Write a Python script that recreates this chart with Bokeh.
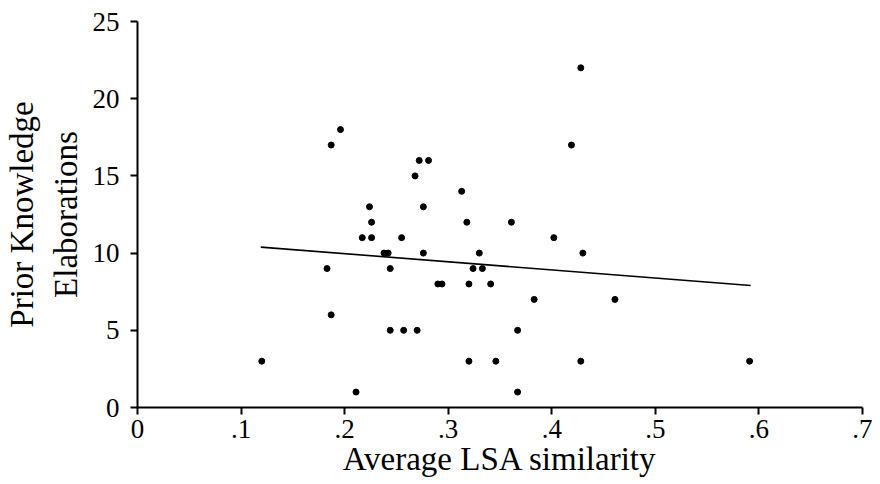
from bokeh.plotting import figure
from bokeh.models import Range1d, FixedTicker
from bokeh.embed import file_html
from bokeh.resources import INLINE

# Average LSA similarity (x) vs Prior Knowledge Elaborations (y)
lsa = [0.120, 0.183, 0.187, 0.187, 0.196, 0.211, 0.217, 0.224, 0.226, 0.226,
       0.238, 0.242, 0.244, 0.244, 0.255, 0.257, 0.268, 0.270, 0.272, 0.276,
       0.276, 0.281, 0.290, 0.294, 0.313, 0.318, 0.320, 0.320, 0.324, 0.330,
       0.333, 0.341, 0.346, 0.361, 0.367, 0.367, 0.383, 0.402, 0.419, 0.428,
       0.428, 0.430, 0.461, 0.591]
elab = [3, 9, 6, 17, 18, 1, 11, 13, 12, 11,
        10, 10, 9, 5, 11, 5, 15, 5, 16, 13,
        10, 16, 8, 8, 14, 12, 8, 3, 9, 10,
        9, 8, 3, 12, 5, 1, 7, 11, 17, 22,
        3, 10, 7, 3]

# regression line end points
fit_x = [0.119, 0.592]
fit_y = [10.39, 7.90]

x_ticks = [0, 0.1, 0.2, 0.3, 0.4, 0.5, 0.6, 0.7]
x_tick_labels = ["0", ".1", ".2", ".3", ".4", ".5", ".6", ".7"]
y_ticks = [0, 5, 10, 15, 20, 25]

FONT = "Liberation Serif"

p = figure(width=872, height=484, output_backend="svg", toolbar_location=None,
           x_range=Range1d(0, 0.7), y_range=Range1d(0, 25),
           min_border_left=137, min_border_right=10, min_border_top=21,
           min_border_bottom=77)
p.outline_line_color = None
p.xgrid.visible = False
p.ygrid.visible = False
p.background_fill_color = "white"
p.border_fill_color = "white"

p.line(fit_x, fit_y, line_color="black", line_width=1.6)
p.scatter(lsa, elab, size=6, color="black")

for ax in (p.xaxis[0], p.yaxis[0]):
    ax.axis_line_width = 2
    ax.axis_line_color = "black"
    ax.major_tick_line_width = 2
    ax.major_tick_line_color = "black"
    ax.major_tick_out = 7
    ax.major_tick_in = 0
    ax.minor_tick_line_color = None
    ax.major_label_text_font = FONT
    ax.major_label_text_font_size = "27px"
    ax.major_label_text_color = "black"
    ax.axis_label_text_font = FONT
    ax.axis_label_text_font_size = "33px"
    ax.axis_label_text_font_style = "normal"
    ax.axis_label_text_color = "black"

p.xaxis.ticker = FixedTicker(ticks=x_ticks)
p.xaxis.major_label_overrides = {t: s for t, s in zip(x_ticks, x_tick_labels)}
p.xaxis.major_label_standoff = 5
p.xaxis.axis_label = "Average LSA similarity"
p.xaxis.axis_label_standoff = 0

p.yaxis.ticker = FixedTicker(ticks=y_ticks)
p.yaxis.major_label_standoff = 11
p.yaxis.axis_label = "Prior Knowledge\nElaborations"
p.yaxis.axis_label_standoff = 6

open("out.html", "w").write(file_html(p, INLINE))
